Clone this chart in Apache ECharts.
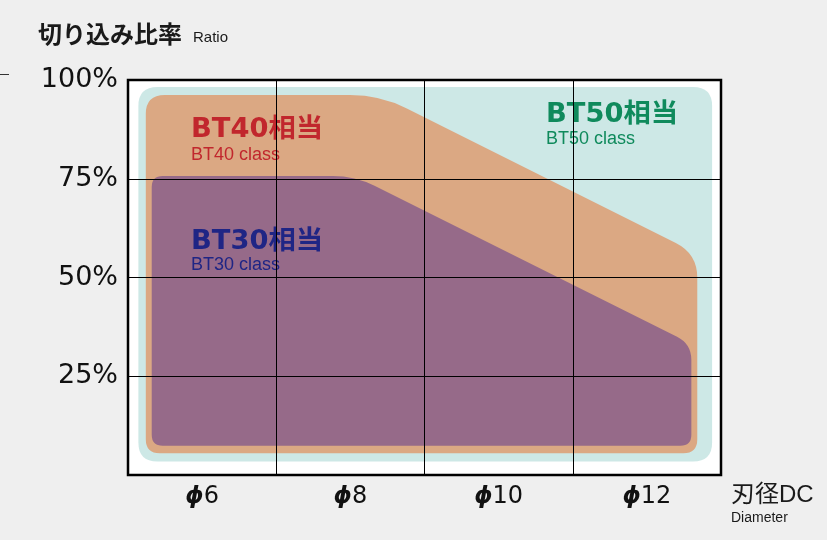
<!DOCTYPE html>
<html>
<head>
<meta charset="utf-8">
<script src="https://cdn.jsdelivr.net/npm/echarts@6/dist/echarts.min.js"></script>
<style>
  html, body { margin: 0; padding: 0; background: #efefef; }
  #chart { width: 827px; height: 540px; }
</style>
</head>
<body>
<div id="chart"></div>
<script>
// Cutter diameter classes (one band per diameter)
const categories = ['ϕ6', 'ϕ8', 'ϕ10', 'ϕ12'];
// Ratio axis ticks (%)
const ratioTicks = [0, 25, 50, 75, 100];

// Usable cutting-depth envelopes per holder class.
// x: position across the diameter bands (0..4), y: cutting ratio in %
const bt50Outline = [[0.07, 98.2], [3.94, 98.2], [3.94, 3.4], [0.07, 3.4]];
const bt40Outline = [[0.12, 96.2], [1.70, 96.2], [3.84, 56.0], [3.84, 5.5], [0.12, 5.5]];
const bt30Outline = [[0.16, 75.7], [1.53, 75.7], [3.80, 33.2], [3.80, 7.4], [0.16, 7.4]];

const chart = echarts.init(document.getElementById('chart'));

// Build an SVG path through the projected corners, softening each corner
function roundedPath(pts, cuts) {
  const n = pts.length;
  const toward = (p, q, c) => {
    const dx = q[0] - p[0], dy = q[1] - p[1];
    const len = Math.sqrt(dx * dx + dy * dy) || 1;
    const k = Math.min(c, len / 2) / len;
    return [p[0] + dx * k, p[1] + dy * k];
  };
  let d = '';
  for (let i = 0; i < n; i++) {
    const p = pts[i], prev = pts[(i - 1 + n) % n], next = pts[(i + 1) % n];
    const a = toward(p, prev, cuts[i]);
    const b = toward(p, next, cuts[i]);
    d += (i === 0 ? 'M' : 'L') + a[0].toFixed(2) + ',' + a[1].toFixed(2) +
      'Q' + p[0].toFixed(2) + ',' + p[1].toFixed(2) + ',' + b[0].toFixed(2) + ',' + b[1].toFixed(2);
  }
  return d + 'Z';
}

function envelopeSeries(name, outline, cuts, color, z) {
  return {
    type: 'custom',
    name: name,
    xAxisIndex: 1,
    yAxisIndex: 0,
    z: z,
    silent: true,
    data: [0],
    renderItem: function (params, api) {
      const pts = outline.map(v => api.coord(v));
      return {
        type: 'path',
        shape: { pathData: roundedPath(pts, cuts) },
        style: { fill: color }
      };
    }
  };
}

const textZ = 5;
function label(text, x, y, font, color, scaleX) {
  return {
    type: 'text', z: textZ, silent: true,
    x: x, y: y, scaleX: scaleX || 1,
    style: { text: text, x: 0, y: 0, font: font, fill: color, textAlign: 'left', textVerticalAlign: 'middle' }
  };
}

const headFont = 'bold 26px "DejaVu Sans", "Noto Sans CJK JP"';
const subFont = '18px "Liberation Sans"';

const option = {
  animation: false,
  backgroundColor: '#efefef',
  grid: {
    left: 128, top: 80, right: 106, bottom: 65,
    show: true, backgroundColor: '#ffffff', borderColor: '#000000', borderWidth: 2.5
  },
  xAxis: [
    {
      type: 'category',
      data: categories,
      boundaryGap: true,
      z: 10,
      axisLine: { show: false },
      axisTick: { show: false },
      splitLine: { show: true, interval: 0, lineStyle: { color: '#000', width: 1 } },
      axisLabel: {
        margin: 10,
        formatter: v => '{p|' + v.charAt(0) + '}{n|' + v.slice(1) + '}',
        rich: {
          p: { fontFamily: 'DejaVu Sans', fontStyle: 'italic', fontWeight: 'bold', fontSize: 23, color: '#111' },
          n: { fontFamily: 'DejaVu Sans', fontSize: 24, color: '#111' }
        }
      }
    },
    { type: 'value', min: 0, max: 4, show: false }
  ],
  yAxis: {
    type: 'value',
    min: ratioTicks[0], max: ratioTicks[ratioTicks.length - 1], interval: 25,
    z: 10,
    axisLine: { show: false },
    axisTick: { show: false },
    splitLine: { show: true, lineStyle: { color: '#000', width: 1 } },
    axisLabel: {
      margin: 10,
      fontFamily: 'DejaVu Sans', fontSize: 27, color: '#111',
      formatter: v => (v === 0 ? '' : v + '%')
    }
  },
  series: [
    envelopeSeries('BT50', bt50Outline, [19, 19, 19, 19], '#cde8e6', 2),
    envelopeSeries('BT40', bt40Outline, [19, 30, 24, 14, 14], '#dba883', 3),
    envelopeSeries('BT30', bt30Outline, [11, 22, 16, 11, 11], '#966a89', 4)
  ],
  graphic: [
    { type: 'line', silent: true, shape: { x1: 0, y1: 74.5, x2: 9, y2: 74.5 }, style: { stroke: '#333', lineWidth: 1 } },
    label('切り込み比率', 38, 34, 'bold 24px "Noto Sans CJK JP"', '#1a1a1a'),
    label('Ratio', 193, 38, '15px "Liberation Sans"', '#1a1a1a'),
    label('BT40相当', 191, 130, headFont, '#c1272d', 1.05),
    label('BT40 class', 191, 155, subFont, '#c1272d'),
    label('BT30相当', 191, 242, headFont, '#1f2585', 1.05),
    label('BT30 class', 191, 265, subFont, '#1f2585'),
    label('BT50相当', 546, 115, headFont, '#0f8a5c', 1.05),
    label('BT50 class', 546, 139, subFont, '#0f8a5c'),
    label('刃径DC', 731, 495, '24px "Liberation Sans", "Noto Sans CJK JP"', '#1a1a1a'),
    label('Diameter', 731, 518, '14px "Liberation Sans"', '#1a1a1a')
  ]
};

chart.setOption(option);
</script>
</body>
</html>
